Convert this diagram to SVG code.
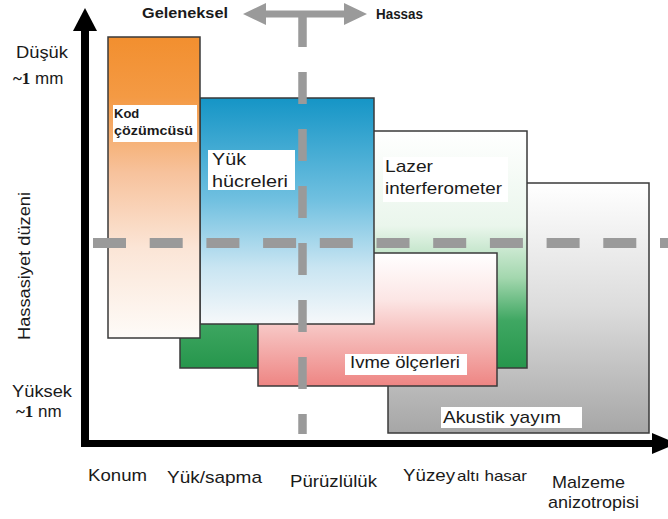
<svg xmlns="http://www.w3.org/2000/svg" width="668" height="519" viewBox="0 0 668 519">
  <style>
    .box { stroke: #3a3a3a; stroke-width: 1.5; }
    .lbl { font-family: "Liberation Sans", Arial, sans-serif; fill: #1a1a1a; }
    .bg { fill: #ffffff; }
    .dash { stroke: #9a9a9a; fill: none; }
    .ax { fill: #000000; }
  </style>
  <defs>
    <linearGradient id="gOrange" x1="0" y1="0" x2="0" y2="1">
      <stop offset="0" stop-color="#f28f2f"/>
      <stop offset="0.2" stop-color="#f49a44"/>
      <stop offset="0.45" stop-color="#f7c29c"/>
      <stop offset="0.7" stop-color="#fbe5d6"/>
      <stop offset="1" stop-color="#fefbf8"/>
    </linearGradient>
    <linearGradient id="gBlue" x1="0" y1="0" x2="0" y2="1">
      <stop offset="0" stop-color="#1595c6"/>
      <stop offset="0.45" stop-color="#70c0e0"/>
      <stop offset="0.75" stop-color="#c9e5f2"/>
      <stop offset="1" stop-color="#f6f8fa"/>
    </linearGradient>
    <linearGradient id="gGreen" x1="0" y1="0" x2="0" y2="1">
      <stop offset="0" stop-color="#ffffff"/>
      <stop offset="0.4" stop-color="#eaf6ec"/>
      <stop offset="0.62" stop-color="#a3d7ae"/>
      <stop offset="0.8" stop-color="#3fa762"/>
      <stop offset="1" stop-color="#26964c"/>
    </linearGradient>
    <linearGradient id="gPink" x1="0" y1="0" x2="0" y2="1">
      <stop offset="0" stop-color="#ffffff"/>
      <stop offset="0.35" stop-color="#fce6e5"/>
      <stop offset="0.6" stop-color="#f6bfbd"/>
      <stop offset="1" stop-color="#ee8583"/>
    </linearGradient>
    <linearGradient id="gGray" x1="0" y1="0" x2="0" y2="1">
      <stop offset="0" stop-color="#ffffff"/>
      <stop offset="0.5" stop-color="#dcdcdc"/>
      <stop offset="1" stop-color="#a6a6a6"/>
    </linearGradient>
  </defs>

  <rect x="0" y="0" width="668" height="519" fill="#ffffff"/>

  <!-- nodes (back to front) -->
  <g id="node-akustik">
    <rect class="box" x="388" y="183" width="261" height="250" fill="url(#gGray)"/>
  </g>
  <g id="node-lazer">
    <rect class="box" x="180" y="131" width="347" height="237" fill="url(#gGreen)"/>
  </g>
  <g id="node-ivme">
    <rect class="box" x="258" y="253" width="239" height="133" fill="url(#gPink)"/>
  </g>
  <g id="node-yuk">
    <rect class="box" x="200" y="98" width="174" height="226" fill="url(#gBlue)"/>
  </g>
  <g id="node-kod">
    <rect class="box" x="108" y="37" width="92" height="301" fill="url(#gOrange)"/>
  </g>

  <!-- connectors: axes, dashed guides, double arrow -->
  <g id="connectors">
    <rect class="ax" x="81" y="28" width="8" height="419"/>
    <polygon class="ax" points="85,8 97,31 73,31"/>
    <rect class="ax" x="81" y="440" width="573" height="7"/>
    <polygon class="ax" points="652,433 677,443.5 652,454"/>
    <line class="dash" x1="93" y1="243" x2="668" y2="243" stroke-width="10" stroke-dasharray="33 23.7"/>
    <line class="dash" x1="302.5" y1="15" x2="302.5" y2="434" stroke-width="8.5" stroke-dasharray="32 25"/>
    <polygon fill="#9a9a9a" points="243,14 266,3 266,10.5 344,10.5 344,3 367,14 344,25 344,17.5 266,17.5 266,25"/>
  </g>

  <!-- label backgrounds and texts -->
  <g id="label-kod">
    <rect class="bg" x="113" y="105" width="84" height="37"/>
    <text class="lbl" font-weight="bold" font-size="13" x="114" y="118">Kod</text>
    <text class="lbl" font-weight="bold" font-size="13" x="114" y="135" textLength="79" lengthAdjust="spacingAndGlyphs">çözümcüsü</text>
  </g>
  <g id="label-yuk">
    <rect class="bg" x="208" y="150" width="87" height="40"/>
    <text class="lbl" font-size="17" x="212" y="165" textLength="34" lengthAdjust="spacingAndGlyphs">Yük</text>
    <text class="lbl" font-size="17" x="212" y="187" textLength="76" lengthAdjust="spacingAndGlyphs">hücreleri</text>
  </g>
  <g id="label-lazer">
    <rect class="bg" x="383" y="157" width="125" height="45"/>
    <text class="lbl" font-size="17" x="385" y="172" textLength="48" lengthAdjust="spacingAndGlyphs">Lazer</text>
    <text class="lbl" font-size="17" x="385" y="194" textLength="117" lengthAdjust="spacingAndGlyphs">interferometer</text>
  </g>
  <g id="label-ivme">
    <rect class="bg" x="345" y="354" width="122" height="21"/>
    <text class="lbl" font-size="17" x="350" y="368" textLength="110" lengthAdjust="spacingAndGlyphs">Ivme ölçerleri</text>
  </g>
  <g id="label-akustik">
    <rect class="bg" x="441" y="407" width="141" height="21"/>
    <text class="lbl" font-size="17" x="443" y="423" textLength="118" lengthAdjust="spacingAndGlyphs">Akustik yayım</text>
  </g>

  <g id="axis-labels">
    <text class="lbl" font-weight="bold" font-size="14" x="142" y="18" textLength="86" lengthAdjust="spacingAndGlyphs">Geleneksel</text>
    <text class="lbl" font-weight="bold" font-size="14" x="376" y="19" textLength="47" lengthAdjust="spacingAndGlyphs">Hassas</text>
    <text class="lbl" font-size="17" x="16" y="58" textLength="52" lengthAdjust="spacingAndGlyphs">Düşük</text>
    <text class="lbl" font-size="17" x="13" y="84"><tspan font-family="Liberation Serif, serif" font-weight="bold">~1</tspan> mm</text>
    <text class="lbl" font-size="17" x="12" y="397" textLength="60" lengthAdjust="spacingAndGlyphs">Yüksek</text>
    <text class="lbl" font-size="17" x="16" y="417"><tspan font-family="Liberation Serif, serif" font-weight="bold">~1</tspan> nm</text>
    <text class="lbl" font-size="16" text-anchor="middle" transform="translate(30,266) rotate(-90)" textLength="148" lengthAdjust="spacingAndGlyphs">Hassasiyet düzeni</text>
    <text class="lbl" font-size="17" x="88" y="481" textLength="59" lengthAdjust="spacingAndGlyphs">Konum</text>
    <text class="lbl" font-size="17" x="167" y="483" textLength="95" lengthAdjust="spacingAndGlyphs">Yük/sapma</text>
    <text class="lbl" font-size="17" x="290" y="487" textLength="87" lengthAdjust="spacingAndGlyphs">Pürüzlülük</text>
    <text class="lbl" font-size="17" x="403" y="481" textLength="52" lengthAdjust="spacingAndGlyphs">Yüzey</text>
    <text class="lbl" font-size="15" x="457" y="481" textLength="70" lengthAdjust="spacingAndGlyphs">altı hasar</text>
    <text class="lbl" font-size="17" x="552" y="488" textLength="73" lengthAdjust="spacingAndGlyphs">Malzeme</text>
    <text class="lbl" font-size="17" x="548" y="508" textLength="91" lengthAdjust="spacingAndGlyphs">anizotropisi</text>
  </g>
</svg>
